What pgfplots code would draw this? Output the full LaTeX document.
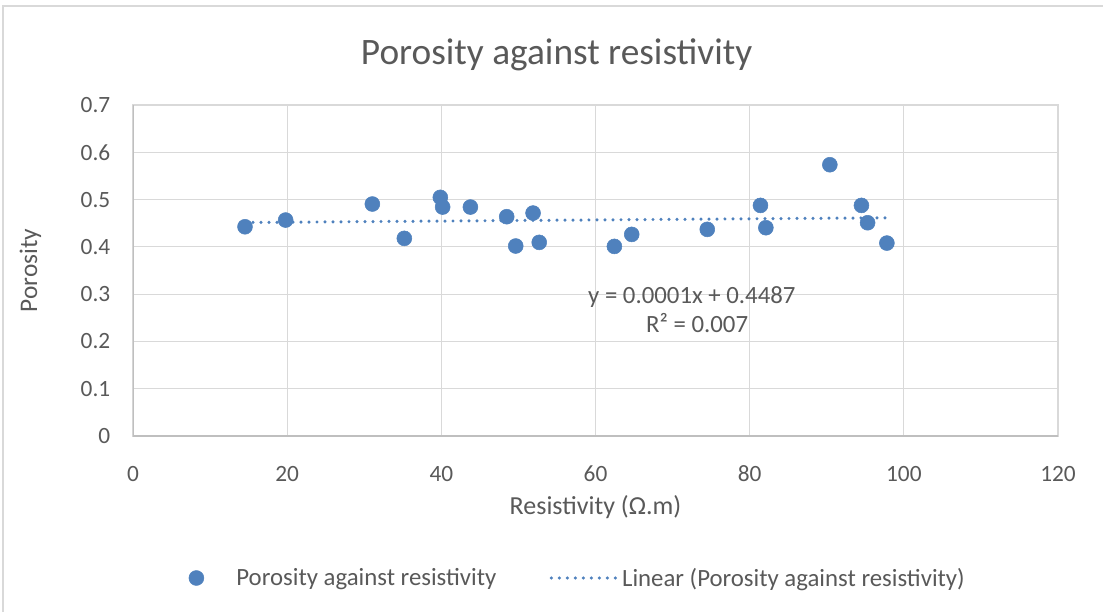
\documentclass[border=0pt]{standalone}
\usepackage{fontspec}
\setmainfont{Carlito}
\usepackage{pgfplots}
\pgfplotsset{compat=1.18}

\definecolor{markblue}{HTML}{4F81BD}
\definecolor{txtgray}{HTML}{595959}
\definecolor{gridgray}{HTML}{D9D9D9}
\definecolor{axisgray}{HTML}{BFBFBF}

\tikzset{trend/.style={markblue, line width=2.6pt, line cap=round, dash pattern=on 0pt off 6pt}}

\begin{document}
\begin{tikzpicture}
\useasboundingbox (0,0) rectangle (827.25pt,459pt);
% outer chart border
\draw[gridgray, line width=0.8pt] (2.25pt,0) -- (2.25pt,454.5pt) -- (827.25pt,454.5pt);

\begin{axis}[
    at={(99.75pt,132pt)}, anchor=south west,
    scale only axis,
    width=693.75pt, height=248.25pt,
    xmin=0, xmax=120, ymin=0, ymax=0.7,
    xtick={0,20,...,120},
    ytick={0,0.1,...,0.7},
    yticklabel style={/pgf/number format/fixed, /pgf/number format/precision=1},
    /pgf/number format/assume math mode=true,
    major tick length=0pt,
    grid=major,
    grid style={gridgray, line width=0.8pt},
    axis line style={gridgray, line width=0.8pt},
    ticklabel style={font=\fontsize{17.5}{21}\selectfont, text=txtgray},
    xticklabel style={yshift=-19pt},
    yticklabel style={xshift=-13.5pt},
    title={Porosity against resistivity},
    title style={at={(axis description cs:0.458,1.127)}, anchor=center,
        font=\fontsize{28}{33}\selectfont, text=txtgray},
    xlabel={Resistivity (Ω.m)},
    xlabel style={at={(axis description cs:0.5,-0.2145)}, anchor=center,
        font=\fontsize{19.5}{23}\selectfont, text=txtgray},
    ylabel={Porosity},
    ylabel style={at={(axis description cs:-0.111,0.5)}, anchor=center,
        font=\fontsize{19}{23}\selectfont, text=txtgray},
    legend style={at={(axis description cs:0.481,-0.429)}, anchor=center,
        draw=none, fill=none, font=\fontsize{18.6}{22}\selectfont, text=txtgray,
        legend columns=2,
        /tikz/every even column/.append style={column sep=38pt}},
    legend cell align=left,
]
\draw[axisgray, line width=0.8pt] (axis cs:0,0.7) -- (axis cs:0,0) -- (axis cs:120,0);

\addplot[only marks, mark=*, mark size=5.6pt, markblue,
    legend image code/.code={\path[draw=none] (-6pt,0) -- (28pt,0); \fill[markblue] (0pt,0pt) circle (5.6pt);}]
coordinates {
(14.53,0.4425) (19.8,0.4567) (31.05,0.4906) (35.2,0.418) (39.87,0.5047)
(40.17,0.4842) (43.77,0.4842) (48.48,0.4638) (49.65,0.4018) (51.9,0.4715)
(52.7,0.4095) (62.45,0.401) (64.7,0.4264) (74.5,0.437) (81.4,0.4877)
(82.1,0.4405) (90.4,0.5737) (94.5,0.4877) (95.3,0.451) (97.8,0.408)
};
\addlegendentry{Porosity against resistivity}

\addplot[trend, legend image code/.code={\draw[trend] (0pt,0pt) -- (48.5pt,0pt); \path[draw=none] (0pt,0pt) -- (51pt,0pt);}]
coordinates {(14.53,0.4515) (97.8,0.4615)};
\addlegendentry{Linear (Porosity against resistivity)}

\node[align=center, text=txtgray, font=\fontsize{18.6}{22}\selectfont, inner sep=0pt]
  at (axis cs:72.5,0.267) {y = 0.0001x + 0.4487\\ \hspace*{8pt}R² = 0.007};
\end{axis}
\end{tikzpicture}
\end{document}
